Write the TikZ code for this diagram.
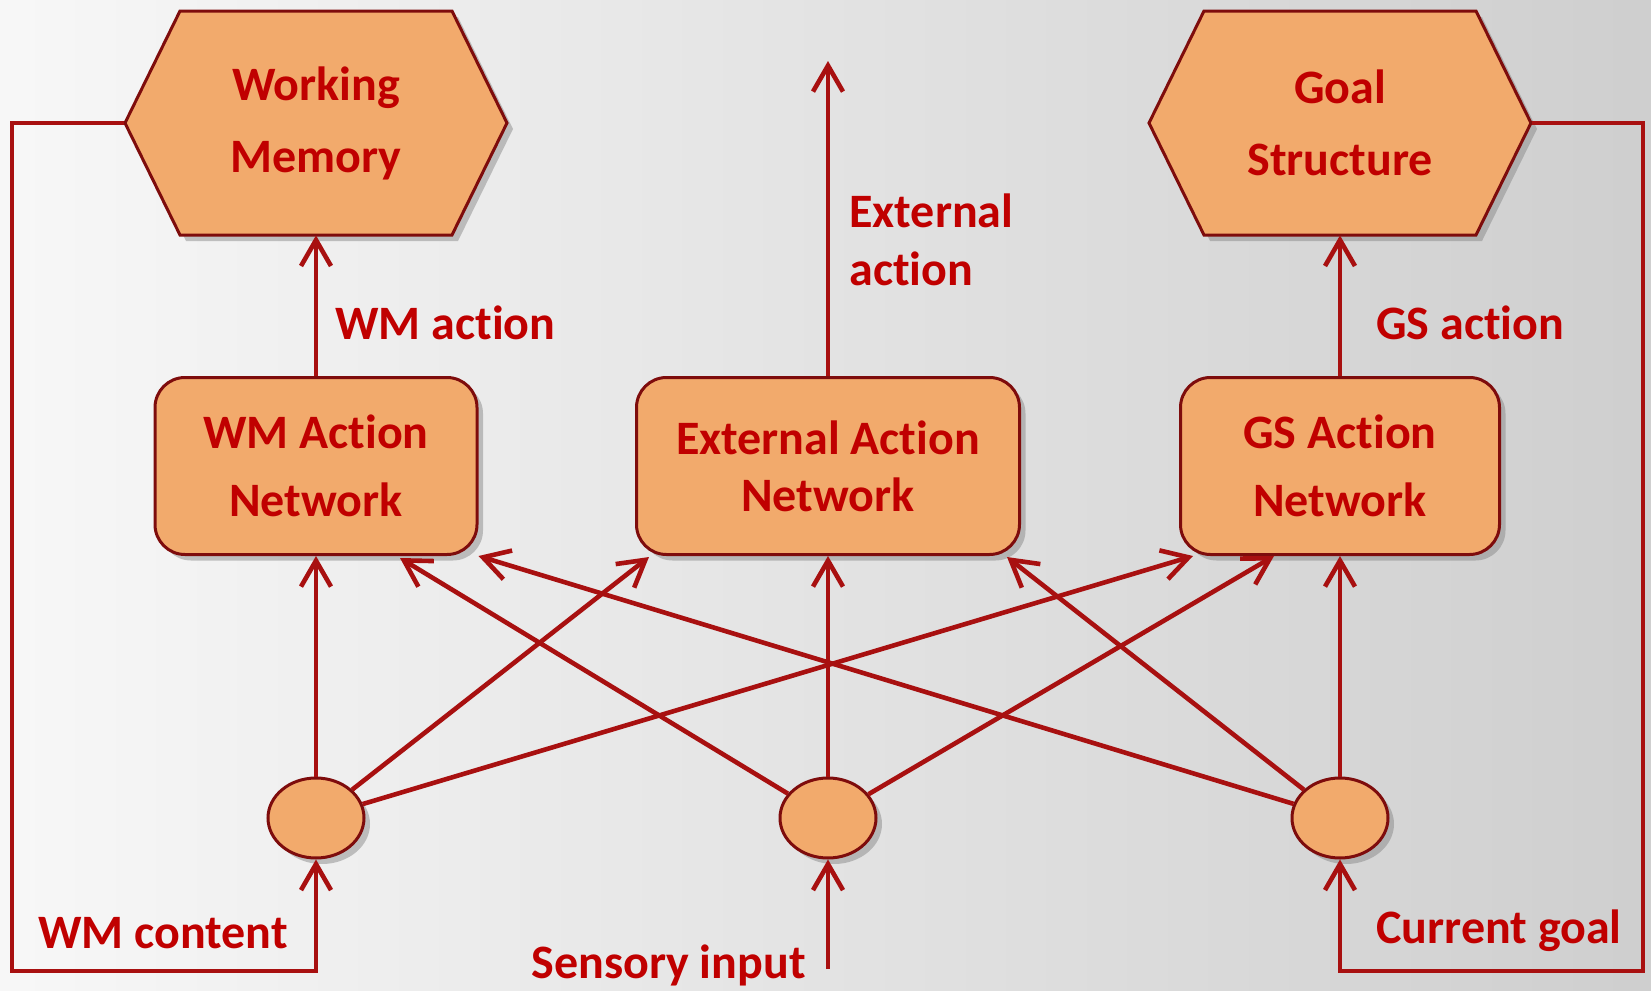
\documentclass[tikz,border=0pt]{standalone}
\usepackage{fontspec}
\setmainfont{Carlito}[Ligatures=NoCommon]
\usetikzlibrary{shapes.geometric,arrows.meta,calc,shadows}

\definecolor{boxfill}{HTML}{F2AA6C}
\definecolor{boxline}{HTML}{7E0C0C}
\definecolor{linered}{HTML}{A81010}
\definecolor{txtred}{HTML}{C00000}

\tikzset{
  conn/.style={line width=2.3pt,color=linered,-{Straight Barb[length=13pt,width=15pt]}},
  blob/.style={fill=boxfill,draw=boxline,line width=1.5pt,
    drop shadow={opacity=0.45,shadow xshift=3pt,shadow yshift=-3pt}},
  hexa/.style={blob},
  net/.style={blob,rectangle,rounded corners=15pt,minimum height=88.5pt,
    text=txtred,align=center,font=\fontsize{24}{34}\selectfont\bfseries},
  unit/.style={blob,ellipse,minimum width=48pt,minimum height=40pt},
  txt/.style={text=txtred,align=left,inner sep=0pt,
    font=\fontsize{24}{29}\selectfont\bfseries},
  hextxt/.style={txt,align=center,minimum width=191.5pt,minimum height=112pt,
    font=\fontsize{24}{36}\selectfont\bfseries}
}

\begin{document}
\begin{tikzpicture}[x=0.5pt,y=-0.5pt]
\useasboundingbox (0,0) rectangle (1651,991);
% background
\shade[shading=axis,shading angle=60,left color=white!97!black,right color=white!81!black] (0,0) rectangle (1651,991);

% memory stores (hexagons)
\coordinate (wmc) at (316,123);
\coordinate (gsc) at (1340,123);
\filldraw[hexa,shift={(wmc)}] (-191,0) -- (-136,-112) -- (136,-112) -- (191,0) -- (136,112) -- (-136,112) -- cycle;
\filldraw[hexa,shift={(gsc)}] (-191,0) -- (-136,-112) -- (136,-112) -- (191,0) -- (136,112) -- (-136,112) -- cycle;
\node[hextxt] (wm) at (wmc) {Working\\Memory};
\node[hextxt] (gs) at (gsc) {Goal\\Structure};

% action networks
\node[net,minimum width=161pt] (wmnet) at (316,466) {WM Action\\Network};
\node[net,minimum width=191.5pt,font=\fontsize{24}{28.5}\selectfont\bfseries] (extnet) at (828,466) {External Action\\Network};
\node[net,minimum width=159.5pt] (gsnet) at (1340,466) {GS Action\\Network};

% input units
\node[unit] (lo) at (316,818) {};
\node[unit] (mo) at (828,818) {};
\node[unit] (ro) at (1340,818) {};

% actions
\coordinate (extout) at (828,61);
\draw[conn] (wmnet) -- (wm);
\draw[conn] (extnet) -- (extout);
\draw[conn] (gsnet) -- (gs);

% units to networks
\draw[conn] (lo) -- (wmnet);
\draw[conn] (lo) -- ($(extnet.south west)+(14,1)$);
\draw[conn] (lo) -- ($(gsnet.south west)+(14,0)$);
\draw[conn] (mo) -- ($(wmnet.south)+(84,2)$);
\draw[conn] (mo) -- (extnet);
\draw[conn] (mo) -- ($(gsnet.south)+(-66,0)$);
\draw[conn] (ro) -- (wmnet.south east);
\draw[conn] (ro) -- ($(extnet.south east)+(-14,1)$);
\draw[conn] (ro) -- (gsnet);

% inputs
\coordinate (wmin) at (12,971);
\coordinate (gsin) at (1643,971);
\coordinate (sens) at (828,969);
\draw[conn] (wm.west) -| (wmin) -| (lo);
\draw[conn] (gs.east) -| (gsin) -| (ro);
\draw[conn] (sens) -- (mo);

% labels
\node[txt,anchor=west] (wmact) at (335,323) {WM action};
\node[txt,anchor=west] (gsact) at (1376,323) {GS action};
\node[txt,anchor=west] (extact) at (849,240) {External\\action};
\node[txt,anchor=west] (wmcont) at (38,933) {WM content};
\node[txt,anchor=east] (sensin) at (806,965) {Sensory input};
\node[txt,anchor=west] (curgoal) at (1376,931) {Current goal};
\end{tikzpicture}
\end{document}
